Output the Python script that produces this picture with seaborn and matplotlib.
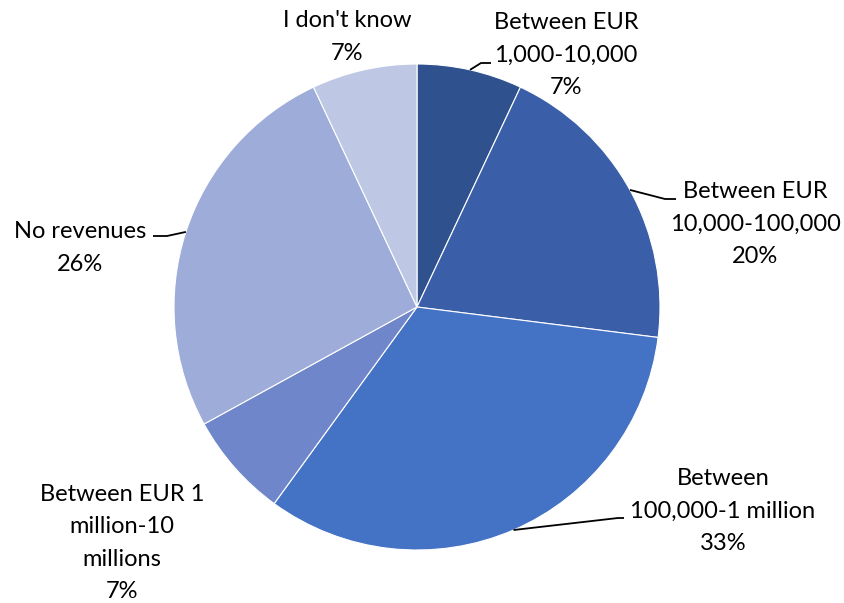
import numpy as np
import matplotlib
matplotlib.use("Agg")
import matplotlib.pyplot as plt
import seaborn as sns

categories = [
    "Between EUR\n1,000-10,000",
    "Between EUR\n10,000-100,000",
    "Between\n100,000-1 million",
    "Between EUR 1\nmillion-10\nmillions",
    "No revenues",
    "I don't know",
]
shares = [7, 20, 33, 7, 26, 7]
colors = ["#2F528F", "#3A5EA8", "#4472C4", "#6F87CA", "#9DACD8", "#BEC8E4"]

# label centres (pixels from top-left) and leader elbows (None = no leader)
label_pos = [(566, 55), (755, 224), (723, 511), (122, 543), (80, 248), (347, 37)]
elbows = [
    ((481, 63), (491, 63)),
    ((665, 199), (676, 199)),
    ((618, 518), (624, 518)),
    None,
    ((167, 236), (153, 236)),
    None,
]

W, H = 844, 603
CX, CY, R = 417, 307, 243

sns.set_theme(style="white")
plt.rcParams["font.family"] = ["Lato", "DejaVu Sans"]

fig = plt.figure(figsize=(W / 100, H / 100), dpi=100)
ax = fig.add_axes([0, 0, 1, 1])

def fy(y):
    return H - y

wedges, _ = ax.pie(
    shares,
    colors=colors,
    startangle=90,
    counterclock=False,
    radius=R,
    center=(CX, fy(CY)),
    wedgeprops=dict(edgecolor="white", linewidth=0.8),
)

for w, name, share, (lx, ly), elb in zip(wedges, categories, shares, label_pos, elbows):
    ax.text(lx, fy(ly), f"{name}\n{share}%", ha="center", va="center",
            fontsize=17, color="black", linespacing=1.68)
    if elb is not None:
        mid = np.deg2rad((w.theta1 + w.theta2) / 2)
        ax_, ay_ = CX + R * np.cos(mid), fy(CY) + R * np.sin(mid)
        xs = [ax_, elb[0][0], elb[1][0]]
        ys = [ay_, fy(elb[0][1]), fy(elb[1][1])]
        ax.plot(xs, ys, color="black", lw=1.3, solid_capstyle="butt")

ax.set_xlim(0, W)
ax.set_ylim(0, H)
ax.set_aspect("equal")
ax.axis("off")
fig.savefig("out.png", dpi=100)
